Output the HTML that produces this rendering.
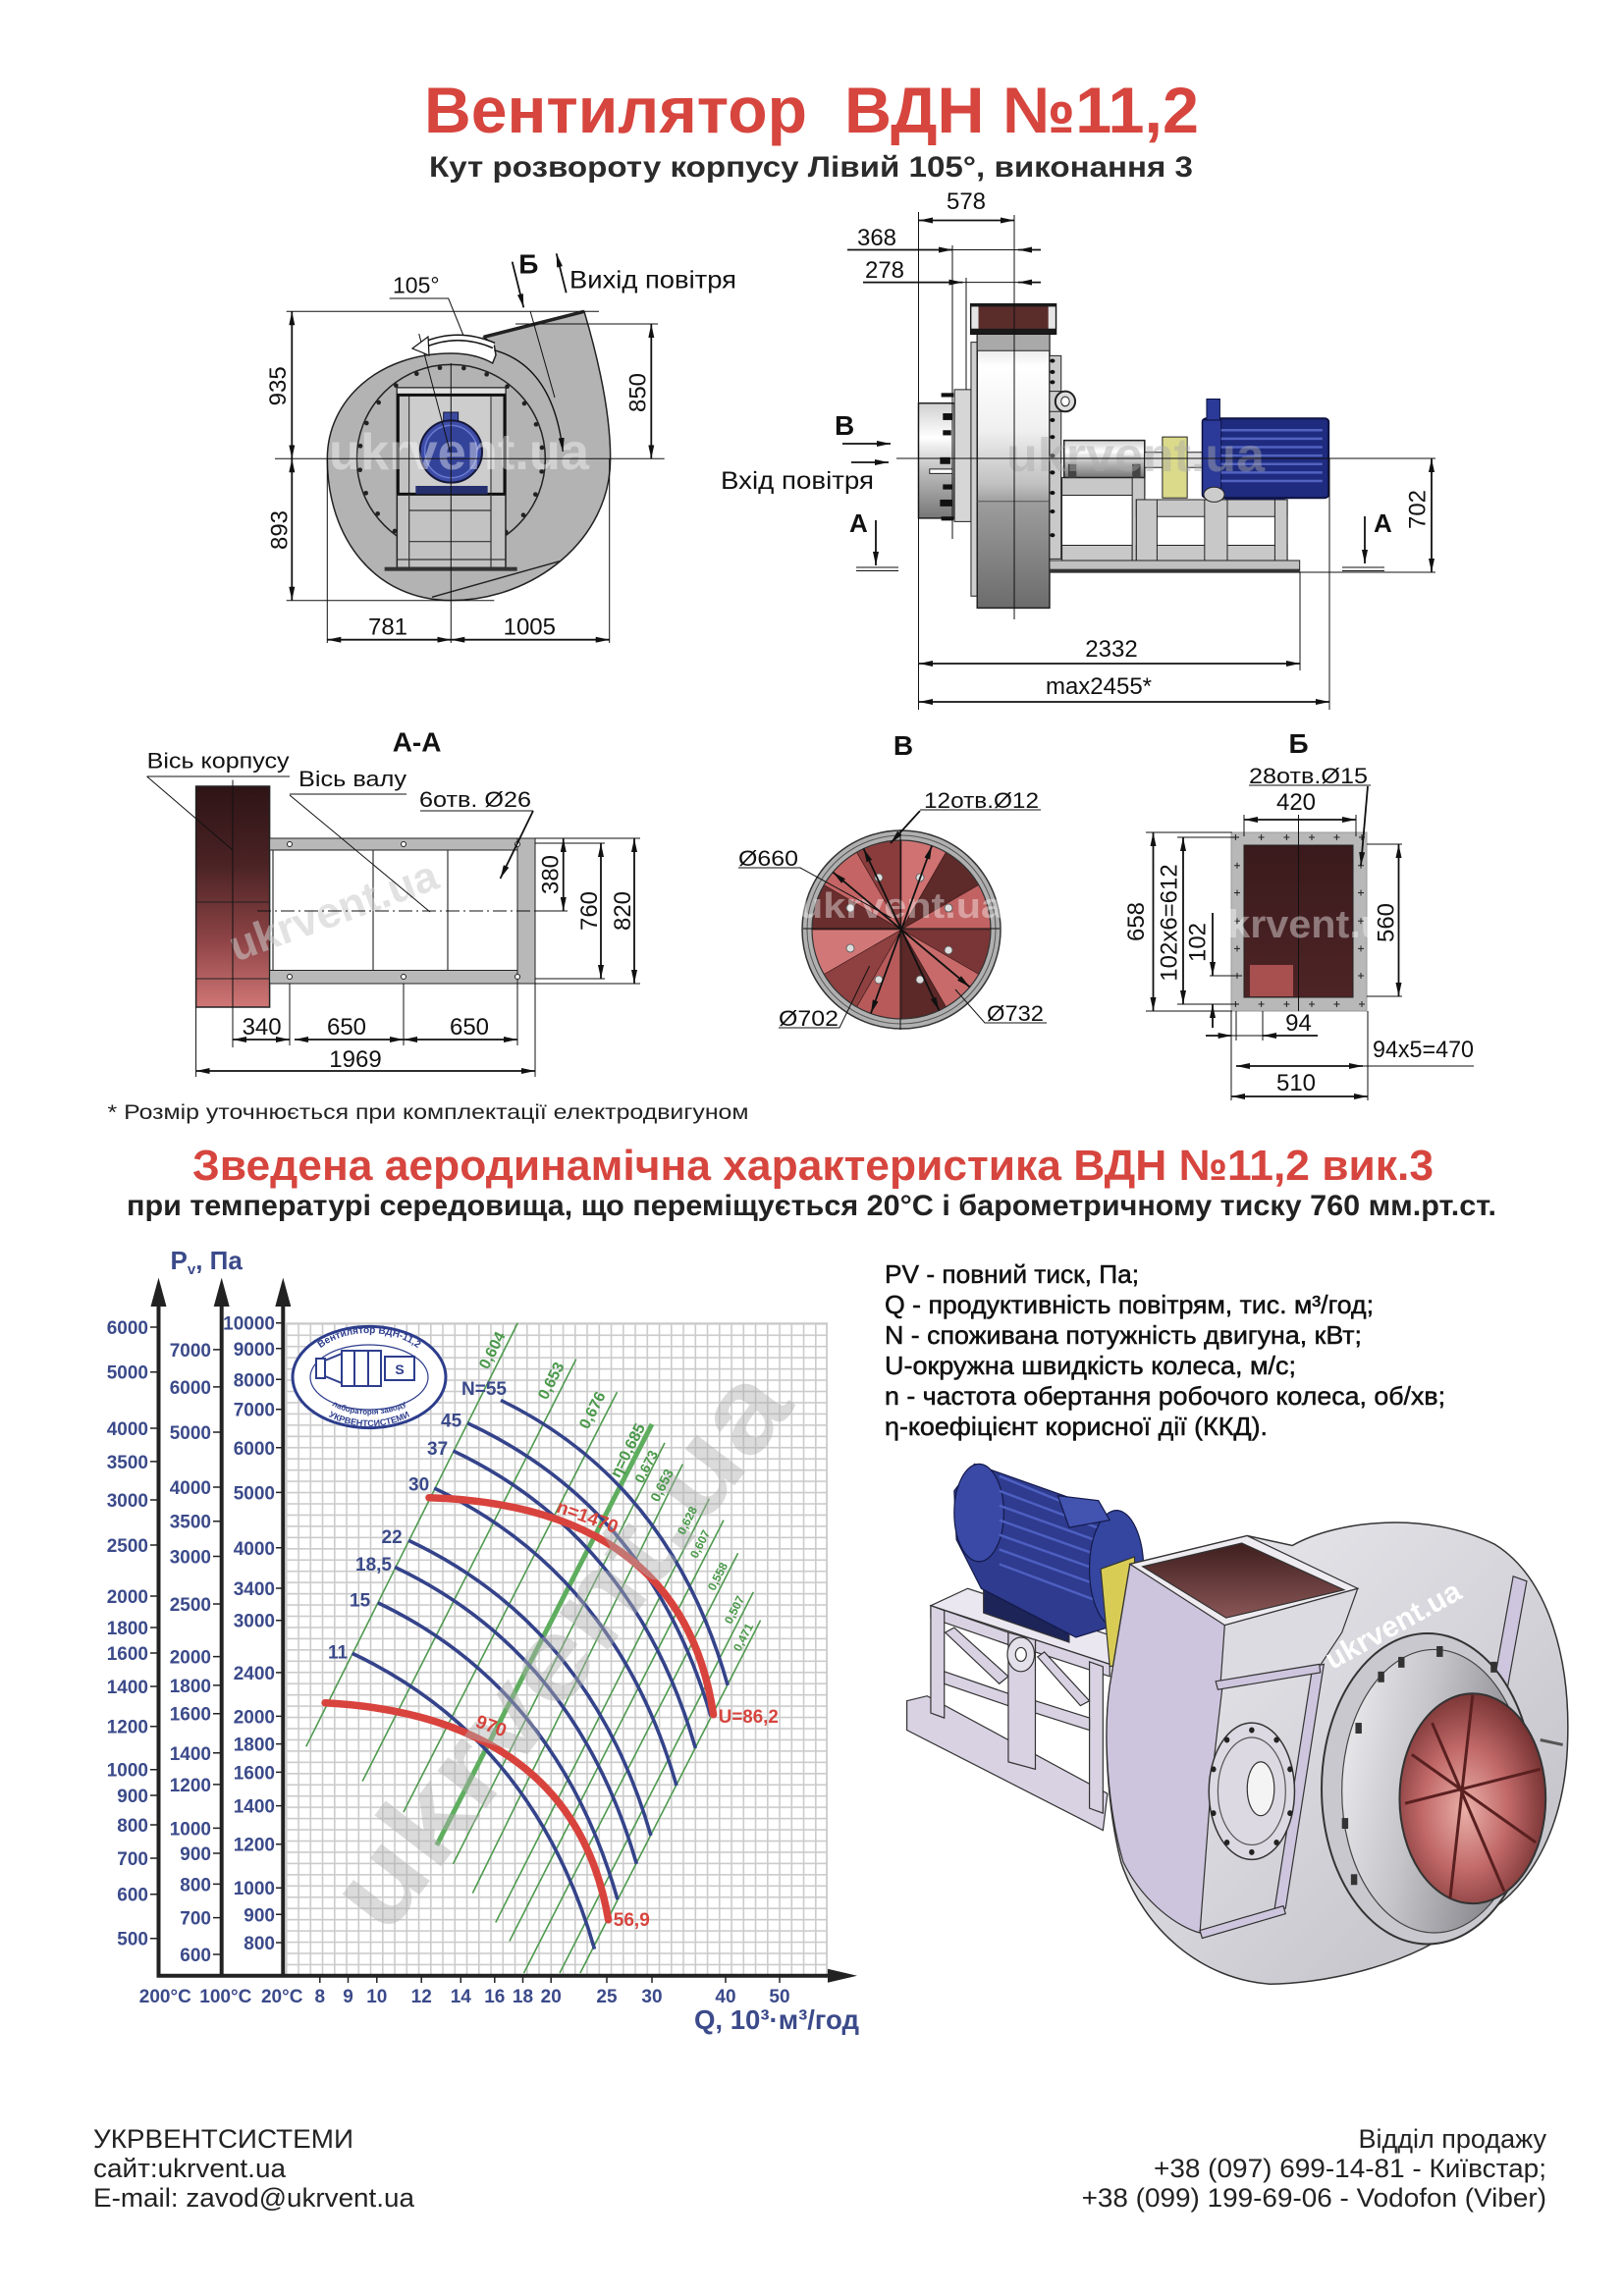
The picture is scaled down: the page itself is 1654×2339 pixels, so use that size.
<!DOCTYPE html>
<html><head><meta charset="utf-8"><style>
html,body{margin:0;padding:0;background:#fff}
svg{display:block}
text{font-family:"Liberation Sans",Arial,sans-serif}
.ns *{vector-effect:non-scaling-stroke}
.th{stroke:#111;stroke-width:1;fill:none}
.dm{stroke:#111;stroke-width:1.8;fill:none}
.ax{font-size:19px;font-weight:bold;fill:#3b4a8a}
</style></head><body>
<svg width="1654" height="2339" viewBox="0 0 1654 2339" xmlns="http://www.w3.org/2000/svg">
<defs>
<marker id="ar" viewBox="0 0 14 6" refX="14" refY="3" markerWidth="14" markerHeight="6" markerUnits="userSpaceOnUse" orient="auto-start-reverse"><path d="M0,0L14,3L0,6z" fill="#111"/></marker>
<linearGradient id="body" x1="0" y1="0" x2="0" y2="1"><stop offset="0" stop-color="#d8d8d8"/><stop offset="0.12" stop-color="#fff"/><stop offset="0.35" stop-color="#f0f0f0"/><stop offset="0.55" stop-color="#c0c0c0"/><stop offset="0.62" stop-color="#9c9c9c"/><stop offset="1" stop-color="#6c6c6c"/></linearGradient>
<linearGradient id="cyl" x1="0" y1="0" x2="0" y2="1"><stop offset="0" stop-color="#d0d0d0"/><stop offset="0.3" stop-color="#fff"/><stop offset="0.6" stop-color="#bbb"/><stop offset="1" stop-color="#777"/></linearGradient>
<linearGradient id="redv" x1="0" y1="0" x2="0" y2="1"><stop offset="0" stop-color="#2e1416"/><stop offset="0.35" stop-color="#4a2224"/><stop offset="0.7" stop-color="#8e4446"/><stop offset="1" stop-color="#d07676"/></linearGradient>
<linearGradient id="brn" x1="0" y1="0" x2="0" y2="1"><stop offset="0" stop-color="#3a1a1c"/><stop offset="1" stop-color="#4e2426"/></linearGradient>
<linearGradient id="inl" x1="0" y1="0" x2="1" y2="0.3"><stop offset="0" stop-color="#f0f0f2"/><stop offset="0.5" stop-color="#c4c4c9"/><stop offset="1" stop-color="#86868c"/></linearGradient>
<linearGradient id="hous" x1="0" y1="0" x2="1" y2="1"><stop offset="0" stop-color="#ececf0"/><stop offset="0.5" stop-color="#d6d5db"/><stop offset="1" stop-color="#bdbcc3"/></linearGradient>
<radialGradient id="redr" cx="0.45" cy="0.55" r="0.6"><stop offset="0" stop-color="#eab0a8"/><stop offset="0.5" stop-color="#c06868"/><stop offset="1" stop-color="#6e2c2c"/></radialGradient>
<linearGradient id="outl" x1="0" y1="0" x2="0" y2="1"><stop offset="0" stop-color="#3e1e1e"/><stop offset="1" stop-color="#8a5656"/></linearGradient>
<pattern id="grid" x="291" y="1348" width="12.25" height="11.45" patternUnits="userSpaceOnUse"><path d="M0.8,0V11.45M0,0.8H12.25" stroke="#cbcbcb" stroke-width="1.6" fill="none"/></pattern>
<path id="lt" d="M312,1400 A64,42 0 0 1 440,1400"/>
<path id="lb1" d="M322,1408 A54,33 0 0 0 430,1408"/>
<path id="lb2" d="M312,1410 A64,43 0 0 0 440,1410"/>
</defs>
<rect width="1654" height="2339" fill="#fff"/>

<!-- TITLES -->
<text x="432" y="135" font-size="66" font-weight="bold" fill="#d6453e" textLength="390" lengthAdjust="spacingAndGlyphs">Вентилятор</text>
<text x="860" y="135" font-size="66" font-weight="bold" fill="#d6453e" textLength="361" lengthAdjust="spacingAndGlyphs">ВДН №11,2</text>
<text x="437" y="180" font-size="30" font-weight="bold" fill="#2b2b2b" textLength="778" lengthAdjust="spacingAndGlyphs">Кут розвороту корпусу Лівий 105°, виконання 3</text>

<!-- TOP LEFT DRAWING -->
<g transform="translate(270,230) scale(0.33333)" class="ns">
<path d="M668,340 L975,262 C1010,380 1055,560 1055,712 C1055,960 820,1145 568,1145 C340,1145 190,960 190,712 C190,530 350,390 568,390 C620,390 660,400 695,420 L705,395 L700,365 Z" fill="#b3b3b3" stroke="#222" stroke-width="1.5"/>
<line x1="668" y1="340" x2="975" y2="262" stroke="#222" stroke-width="3.5"/>
<circle cx="568" cy="712" r="288" fill="none" stroke="#222" stroke-width="1.5"/>
<g fill="#222">
<circle cx="463" cy="452" r="7"/><circle cx="534" cy="434" r="7"/><circle cx="607" cy="435" r="7"/><circle cx="677" cy="454" r="7"/><circle cx="740" cy="491" r="7"/><circle cx="792" cy="543" r="7"/><circle cx="828" cy="607" r="7"/><circle cx="846" cy="678" r="7"/><circle cx="845" cy="751" r="7"/><circle cx="826" cy="821" r="7"/><circle cx="789" cy="884" r="7"/><circle cx="736" cy="936" r="7"/><circle cx="396" cy="933" r="7"/><circle cx="344" cy="880" r="7"/><circle cx="308" cy="817" r="7"/><circle cx="290" cy="746" r="7"/><circle cx="291" cy="673" r="7"/><circle cx="310" cy="603" r="7"/><circle cx="347" cy="540" r="7"/><circle cx="400" cy="488" r="7"/>
</g>
<rect x="403" y="495" width="332" height="550" fill="#c2c2c2" stroke="#222" stroke-width="1.5"/>
<rect x="440" y="515" width="250" height="305" fill="#cdcdcd" stroke="#222"/>
<rect x="403" y="495" width="332" height="20" fill="#e0e0e0" stroke="#222"/>
<path d="M406,515V820 M732,515V820 M403,517H735 M403,820H735" stroke="#111" stroke-width="3" fill="none"/>
<path d="M440,820V1045 M690,820V1045 M440,870H690 M440,965H690 M403,1020H735" stroke="#333" stroke-width="1.2" fill="none"/>
<rect x="365" y="1043" width="405" height="12" fill="#333"/>
<rect x="545" y="570" width="45" height="45" fill="#3b4aa0" stroke="#15183a"/>
<circle cx="568" cy="690" r="95" fill="#3d4ca6" stroke="#15183a" stroke-width="2"/>
<circle cx="568" cy="690" r="80" fill="#34439a" stroke="#6a7ad0" stroke-width="1.5"/>
<rect x="460" y="795" width="220" height="25" fill="#26306e"/>
<line x1="510" y1="1135" x2="900" y2="1025" stroke="#222" stroke-width="1.5"/>
</g>
<text x="335" y="478" font-size="52" font-weight="bold" fill="#fff" opacity="0.4" textLength="265" lengthAdjust="spacingAndGlyphs">ukrvent.ua</text>
<path class="th" d="M291.7,317.3H610 M291.7,611.7H503.3 M525,330H670 M280,467.3H676.7 M333.3,467.3V655 M459.3,370V655 M620.7,467.3V655 M396.7,304H456.7L473.3,345 M540,316.7L565,405 M426.7,340L458.3,460"/>
<g class="dm" marker-start="url(#ar)" marker-end="url(#ar)">
<path d="M297.3,317.3V467.3"/><path d="M297.3,467.3V611.7"/><path d="M663.3,330V467.3"/><path d="M333.3,651.7H459.3"/><path d="M459.3,651.7H620.7"/>
</g>
<g class="dm" marker-end="url(#ar)">
<path d="M521.7,266.7L533.3,313.3"/><path d="M576.7,298.3L566.7,258.3"/><path d="M503.3,356.7Q563.3,373.3 573.3,460" stroke-width="1.4"/>
</g>
<path d="M503,352 Q466,336 430,352" stroke="#111" stroke-width="7" fill="none"/>
<path d="M503,352 Q466,336 430,352" stroke="#fff" stroke-width="4" fill="none"/>
<polygon points="420,355 436,343 437,362" fill="#fff" stroke="#111" stroke-width="1.2"/>
<g font-size="24" fill="#111" text-anchor="middle" dominant-baseline="central">
<text transform="translate(283.3,393.3) rotate(-90)">935</text>
<text transform="translate(285,540) rotate(-90)">893</text>
<text transform="translate(650,400) rotate(-90)">850</text>
</g>
<g font-size="24" fill="#111" text-anchor="middle">
<text x="395" y="646.7">781</text><text x="539.3" y="646.7">1005</text>
</g>
<text x="400" y="298.3" font-size="23" fill="#111">105°</text>
<text x="528.3" y="278.3" font-size="28" font-weight="bold" fill="#111">Б</text>
<text x="580" y="293.3" font-size="25" fill="#111" textLength="170" lengthAdjust="spacingAndGlyphs">Вихід повітря</text>

<!-- TOP RIGHT DRAWING -->
<g transform="translate(850,190) scale(0.42105,0.34483)" class="ns">
<rect x="203" y="640" width="87" height="340" fill="url(#cyl)" stroke="#222" stroke-width="1.5"/>
<rect x="230" y="835" width="55" height="13" fill="#fff" stroke="#222"/>
<rect x="290" y="600" width="40" height="390" fill="#d6d6d6" stroke="#222"/>
<g fill="#111"><rect x="258" y="610" width="30" height="12"/><rect x="262" y="670" width="22" height="20"/><rect x="262" y="720" width="20" height="15"/><rect x="255" y="800" width="25" height="20"/><rect x="262" y="880" width="22" height="15"/><rect x="255" y="925" width="30" height="20"/><rect x="258" y="975" width="30" height="12"/></g>
<rect x="330" y="460" width="15" height="750" fill="#cfcfcf" stroke="#222"/>
<rect x="345" y="435" width="175" height="810" fill="url(#body)" stroke="#222" stroke-width="1.5"/>
<rect x="345" y="435" width="175" height="50" fill="#a9a9a9" stroke="#222"/>
<line x1="345" y1="930" x2="520" y2="930" stroke="#555"/>
<rect x="330" y="348" width="205" height="87" fill="#5a2c2a" stroke="#111" stroke-width="2"/>
<rect x="331" y="352" width="17" height="68" fill="#e5e5e5"/>
<rect x="517" y="352" width="17" height="68" fill="#e5e5e5"/>
<rect x="330" y="420" width="205" height="15" fill="#1a1a1a"/>
<rect x="330" y="345" width="205" height="10" fill="#1a1a1a"/>
<rect x="520" y="500" width="28" height="600" fill="#c9c9c9" stroke="#222"/>
<g fill="#111"><circle cx="527" cy="515" r="6"/><circle cx="527" cy="548" r="6"/><circle cx="527" cy="578" r="6"/><circle cx="527" cy="690" r="6"/><circle cx="527" cy="740" r="6"/><circle cx="527" cy="795" r="6"/><circle cx="527" cy="845" r="6"/><circle cx="527" cy="905" r="6"/><circle cx="527" cy="960" r="6"/><circle cx="527" cy="1030" r="6"/></g>
<rect x="520" y="605" width="40" height="60" fill="#ccc" stroke="#222"/>
<ellipse cx="558" cy="635" rx="24" ry="30" fill="#ddd" stroke="#222" stroke-width="2"/>
<ellipse cx="558" cy="635" rx="10" ry="14" fill="#fff" stroke="#222"/>
<rect x="550" y="860" width="200" height="245" fill="#fff" stroke="#222"/>
<rect x="550" y="860" width="200" height="52" fill="#c8c8c8" stroke="#222"/>
<rect x="550" y="1060" width="170" height="45" fill="#c8c8c8" stroke="#222"/>
<rect x="720" y="860" width="30" height="245" fill="#c8c8c8" stroke="#222"/>
<rect x="730" y="925" width="365" height="180" fill="#fff" stroke="#222"/>
<rect x="730" y="925" width="365" height="50" fill="#c8c8c8" stroke="#222"/>
<rect x="730" y="1060" width="365" height="45" fill="#c8c8c8" stroke="#222"/>
<rect x="730" y="925" width="50" height="180" fill="#c8c8c8" stroke="#222"/>
<rect x="895" y="925" width="55" height="180" fill="#c8c8c8" stroke="#222"/>
<rect x="1065" y="925" width="30" height="180" fill="#c8c8c8" stroke="#222"/>
<rect x="520" y="1105" width="605" height="35" fill="#c0c0c0" stroke="#222"/>
<rect x="520" y="1130" width="605" height="10" fill="#333"/>
<rect x="555" y="750" width="195" height="110" fill="url(#cyl)" stroke="#222" stroke-width="1.5"/>
<rect x="565" y="820" width="20" height="40" fill="#444"/><rect x="720" y="820" width="20" height="40" fill="#444"/>
<rect x="750" y="785" width="150" height="45" fill="#e2e2e2" stroke="#222"/>
<rect x="793" y="740" width="60" height="180" fill="#dada8a" stroke="#222"/>
<rect x="945" y="885" width="145" height="40" fill="#16205e"/>
<rect x="890" y="685" width="305" height="235" rx="10" fill="#1e2b7e" stroke="#0d1240" stroke-width="2"/>
<rect x="890" y="690" width="45" height="225" fill="#2b3a98" stroke="#0d1240"/>
<path d="M935,720H1180 M935,745H1180 M935,770H1180 M935,795H1180 M935,820H1180 M935,845H1180 M935,870H1180" stroke="#5262c0" stroke-width="2.5"/>
<rect x="900" y="628" width="32" height="62" fill="#2b3a98" stroke="#0d1240"/>
<ellipse cx="918" cy="910" rx="25" ry="22" fill="#ccc" stroke="#222"/>
</g>
<text x="1025" y="480" font-size="48" font-weight="bold" fill="#aaa" opacity="0.45" textLength="263" lengthAdjust="spacingAndGlyphs">ukrvent.ua</text>
<path class="th" d="M935.5,216V723 M1033,219V631 M970,250V549 M984,283V397 M1324,583V683 M1354,467V723 M913,467H1380 M1354,467H1462 M1324,583H1462 M970,254.5H1060 M980.5,287.6H1060 M872,578H915 M872,581.5H915 M1367,578H1410 M1367,581.5H1410"/>
<g class="dm" marker-start="url(#ar)" marker-end="url(#ar)">
<path d="M936,224.5H1033"/><path d="M1458,467V583"/><path d="M936,676H1324"/><path d="M936,715H1354"/>
</g>
<g class="dm" marker-end="url(#ar)">
<path d="M863,254.5H970"/><path d="M1060,254.5H1037"/><path d="M879,287.6H980.5"/><path d="M1060,287.6H1037"/><path d="M858,452H907"/><path d="M867,471H905"/><path d="M892,530V576"/><path d="M1390,526V574"/>
</g>
<g font-size="24" fill="#111" text-anchor="middle">
<text x="984" y="213">578</text><text x="893" y="250">368</text><text x="901" y="283">278</text>
<text x="1132" y="669">2332</text><text x="1119" y="707">max2455*</text>
<text transform="translate(1444,519) rotate(-90)" dominant-baseline="central">702</text>
</g>
<text x="850" y="443" font-size="28" font-weight="bold" fill="#111">В</text>
<text x="734" y="498" font-size="25" fill="#111" textLength="156" lengthAdjust="spacingAndGlyphs">Вхід повітря</text>
<text x="865" y="542" font-size="26" font-weight="bold" fill="#111">А</text>
<text x="1399" y="542" font-size="26" font-weight="bold" fill="#111">А</text>

<!-- A-A SECTION -->
<rect x="199.6" y="801" width="75" height="225" fill="url(#redv)" stroke="#222" stroke-width="1.5"/>
<path d="M199.6,919H274.6 M199.6,997H274.6" stroke="#222" stroke-width="1"/>
<rect x="274.6" y="854" width="270.4" height="12" fill="#b8b8b8" stroke="#222"/>
<rect x="274.6" y="988.5" width="270.4" height="13.5" fill="#b8b8b8" stroke="#222"/>
<rect x="527" y="854" width="18" height="148" fill="#b8b8b8" stroke="#222"/>
<path d="M278,866V988 M380,866V988 M456,866V988" stroke="#333" stroke-width="1.2"/>
<g fill="#fff" stroke="#222"><circle cx="295" cy="860" r="2.5"/><circle cx="411" cy="860" r="2.5"/><circle cx="527" cy="860" r="2.5"/><circle cx="295" cy="995" r="2.5"/><circle cx="411" cy="995" r="2.5"/><circle cx="527" cy="995" r="2.5"/></g>
<text transform="translate(240,980) rotate(-20)" font-size="44" font-weight="bold" fill="#ccc" opacity="0.55">ukrvent.ua</text>
<path d="M262,928H545" stroke="#111" stroke-width="1" stroke-dasharray="14 4 2 4"/>
<path class="th" d="M237,794.6V1067 M149.6,791H295 M149.6,791L237,866 M295,809H414 M295,810L438,929 M428,826H543 M545,854H652 M545,1002H652 M545,859H616 M545,997H616 M545,928H578 M199.6,1026V1097 M237,1026V1065 M295,1002V1065 M411,1002V1065 M527,1002V1065 M545,1002V1097"/>
<path class="dm" d="M543,826L509.5,895" marker-end="url(#ar)" stroke-width="1.2"/>
<g class="dm" marker-start="url(#ar)" marker-end="url(#ar)">
<path d="M573.75,854V928"/><path d="M612,859V997"/><path d="M646,854V1002"/>
<path d="M237,1059H295"/><path d="M300,1059H411"/><path d="M411,1059H527"/><path d="M199.6,1091H545"/>
</g>
<g font-size="24" fill="#111" text-anchor="middle">
<text transform="translate(561,891) rotate(-90)" dominant-baseline="central">380</text>
<text transform="translate(600.5,928) rotate(-90)" dominant-baseline="central">760</text>
<text transform="translate(634.5,928) rotate(-90)" dominant-baseline="central">820</text>
<text x="266.6" y="1054">340</text><text x="353" y="1054">650</text><text x="478" y="1054">650</text><text x="362" y="1087">1969</text>
</g>
<text x="424.6" y="765.7" font-size="28" font-weight="bold" fill="#111" text-anchor="middle">А-А</text>
<text x="149.6" y="782.7" font-size="22" fill="#111" textLength="145" lengthAdjust="spacingAndGlyphs">Вісь корпусу</text>
<text x="304" y="801" font-size="22" fill="#111" textLength="110" lengthAdjust="spacingAndGlyphs">Вісь валу</text>
<text x="427" y="822" font-size="22" fill="#111" textLength="114" lengthAdjust="spacingAndGlyphs">6отв. Ø26</text>

<!-- B VIEW -->
<circle cx="918" cy="947" r="101" fill="#b0b0b0" stroke="#333" stroke-width="1.5"/>
<circle cx="918" cy="947" r="96" fill="none" stroke="#555" stroke-width="1"/>
<g stroke="#3a1a1a" stroke-width="0.6">
<path d="M918,947L1009,947A91,91 0 0 1 996.8,992.5Z" fill="#7a3636"/>
<path d="M918,947L996.8,992.5A91,91 0 0 1 963.5,1025.8Z" fill="#c86a6a"/>
<path d="M918,947L963.5,1025.8A91,91 0 0 1 918,1038Z" fill="#5c2828"/>
<path d="M918,947L918,1038A91,91 0 0 1 872.5,1025.8Z" fill="#b85a5a"/>
<path d="M918,947L872.5,1025.8A91,91 0 0 1 839.2,992.5Z" fill="#8f4040"/>
<path d="M918,947L839.2,992.5A91,91 0 0 1 827,947Z" fill="#d27777"/>
<path d="M918,947L827,947A91,91 0 0 1 839.2,901.5Z" fill="#6a2e2e"/>
<path d="M918,947L839.2,901.5A91,91 0 0 1 872.5,868.2Z" fill="#c46464"/>
<path d="M918,947L872.5,868.2A91,91 0 0 1 918,856Z" fill="#8a3c3c"/>
<path d="M918,947L918,856A91,91 0 0 1 963.5,868.2Z" fill="#d07272"/>
<path d="M918,947L963.5,868.2A91,91 0 0 1 996.8,901.5Z" fill="#5e2a2a"/>
<path d="M918,947L996.8,901.5A91,91 0 0 1 1009,947Z" fill="#c26262"/>
</g>
<circle cx="918" cy="947" r="91" fill="none" stroke="#333" stroke-width="1.2"/>
<g fill="#ddd" stroke="#555" stroke-width="0.8"><circle cx="895" cy="894" r="4"/><circle cx="937" cy="894" r="4"/><circle cx="866" cy="925" r="4"/><circle cx="966" cy="925" r="4"/><circle cx="866" cy="966" r="4"/><circle cx="966" cy="968" r="4"/><circle cx="895" cy="998" r="4"/><circle cx="937" cy="998" r="4"/></g>
<text x="813" y="935" font-size="36" font-weight="bold" fill="#fff" opacity="0.4" textLength="209" lengthAdjust="spacingAndGlyphs">ukrvent.ua</text>
<path class="th" d="M917,845V1049 M818,946H1018 M937,825H1060 M752,884H815L907.5,935 M793,1047H855L885.6,984 M1066,1042H1003L973,1008"/>
<g class="dm" stroke-width="1.4" marker-start="url(#ar)" marker-end="url(#ar)">
<path d="M848.3,888.5L987.7,1005.5"/><path d="M879.5,864.5L956.5,1029.5"/><path d="M949.1,861.5L886.9,1032.5"/>
</g>
<path class="dm" d="M937,826L907,859" marker-end="url(#ar)" stroke-width="1.4"/>
<text x="920" y="769" font-size="28" font-weight="bold" fill="#111" text-anchor="middle">В</text>
<g font-size="22" fill="#111">
<text x="941" y="823" textLength="117" lengthAdjust="spacingAndGlyphs">12отв.Ø12</text>
<text x="752" y="882" textLength="61" lengthAdjust="spacingAndGlyphs">Ø660</text>
<text x="793" y="1045" textLength="61" lengthAdjust="spacingAndGlyphs">Ø702</text>
<text x="1005" y="1040" textLength="58" lengthAdjust="spacingAndGlyphs">Ø732</text>
</g>

<!-- Б VIEW -->
<rect x="1254" y="848" width="138" height="182" fill="#b8b8b8" stroke="#999"/>
<rect x="1267" y="861" width="111" height="155" fill="url(#brn)" stroke="#222"/>
<rect x="1273" y="983" width="44" height="32" fill="#a84f4f"/>
<path d="M1322.5,830V1030" stroke="#111" stroke-width="1"/>
<path stroke="#222" stroke-width="1" d="M1255.4,853h6M1258.4,850v6 M1281.6,853h6M1284.6,850v6 M1307.4,853h6M1310.4,850v6 M1333,853h6M1336,850v6 M1358.4,853h6M1361.4,850v6 M1384,853h6M1387,850v6 M1255.4,1023h6M1258.4,1020v6 M1281.6,1023h6M1284.6,1020v6 M1307.4,1023h6M1310.4,1020v6 M1333,1023h6M1336,1020v6 M1358.4,1023h6M1361.4,1020v6 M1384,1023h6M1387,1020v6 M1257,881.7h6M1260,878.7v6 M1257,909.5h6M1260,906.5v6 M1257,938.3h6M1260,935.3v6 M1257,966.4h6M1260,963.4v6 M1257,994h6M1260,991v6 M1383,881.7h6M1386,878.7v6 M1383,909.5h6M1386,906.5v6 M1383,938.3h6M1386,935.3v6 M1383,966.4h6M1386,963.4v6 M1383,994h6M1386,991v6"/>
<text x="1225" y="955" font-size="40" font-weight="bold" fill="#fff" opacity="0.4" textLength="209" lengthAdjust="spacingAndGlyphs">ukrvent.ua</text>
<path class="th" d="M1272,800H1396 M1267,830V852 M1381,830V852 M1167,848H1255 M1167,1030H1255 M1199,853H1262 M1199,1023H1262 M1232,994H1265 M1392,860H1428 M1392,1015H1428 M1259,1030V1060 M1286,1030V1060 M1254.6,1055H1286 M1254,1030V1121 M1393,1030V1121 M1388,1086H1501"/>
<path class="dm" d="M1393,801L1386,882" marker-end="url(#ar)" stroke-width="1.4"/>
<g class="dm" marker-start="url(#ar)" marker-end="url(#ar)">
<path d="M1267,835H1381"/><path d="M1174.5,848V1030"/><path d="M1205,853V1023"/><path d="M1424.5,860V1015"/><path d="M1259,1086H1388"/><path d="M1254,1117H1393"/>
</g>
<g class="dm" marker-end="url(#ar)">
<path d="M1235,930V994"/><path d="M1235,1047V1023"/><path d="M1228,1055H1254.6"/><path d="M1342,1055H1286"/>
</g>
<g font-size="24" fill="#111" text-anchor="middle">
<text x="1320" y="825">420</text><text x="1322.5" y="1050">94</text><text x="1320" y="1111">510</text>
<text transform="translate(1157.5,939) rotate(-90)" dominant-baseline="central">658</text>
<text transform="translate(1191,940) rotate(-90)" dominant-baseline="central">102x6=612</text>
<text transform="translate(1220,960) rotate(-90)" dominant-baseline="central">102</text>
<text transform="translate(1412,940) rotate(-90)" dominant-baseline="central">560</text>
</g>
<text x="1398" y="1077" font-size="24" fill="#111" textLength="103" lengthAdjust="spacingAndGlyphs">94x5=470</text>
<text x="1322.5" y="767" font-size="28" font-weight="bold" fill="#111" text-anchor="middle">Б</text>
<text x="1272" y="798" font-size="22" fill="#111" textLength="121" lengthAdjust="spacingAndGlyphs">28отв.Ø15</text>

<!-- NOTE & SECOND TITLE -->
<text x="109.5" y="1140" font-size="21" fill="#222" textLength="653" lengthAdjust="spacingAndGlyphs">* Розмір уточнюється при комплектації електродвигуном</text>
<text x="196" y="1202" font-size="44" font-weight="bold" fill="#d6453e" textLength="1264" lengthAdjust="spacingAndGlyphs">Зведена аеродинамічна характеристика ВДН №11,2 вик.3</text>
<text x="129" y="1238" font-size="30" font-weight="bold" fill="#222" textLength="1395" lengthAdjust="spacingAndGlyphs">при температурі середовища, що переміщується 20°C і барометричному тиску 760 мм.рт.ст.</text>

<!-- CHART -->
<rect x="291" y="1348" width="552" height="665" fill="url(#grid)"/>
<path d="M842,1348V2012 M291,1348H843" stroke="#cbcbcb" stroke-width="1.6"/>
<g class="ns" transform="translate(90,1250) scale(0.52178,0.54289)" fill="none">
<path d="M425,975L838,180 M535,1040L952,248 M615,1098L1032,310 M712,1195L1125,405 M750,1250L1160,445 M795,1305L1212,510 M822,1340L1240,550 M850,1400L1268,612 M920,1400L1298,685 M960,1400L1312,738" stroke="#4f9a4f" stroke-width="1.6"/>
<path d="M680,1160L1100,370" stroke="#5fae5f" stroke-width="5"/>
<path d="M805,325Q1137,480 1248,860 M740,368Q1096,527 1215,918 M712,420Q1067,582 1185,978 M675,490Q1030,652 1148,1048 M625,588Q980,749 1098,1142 M598,638Q952,800 1070,1195 M565,705Q916,866 1033,1262 M515,800Q870,961 988,1355" stroke="#34438a" stroke-width="3.6"/>
<path d="M665,508C900,515 1170,590 1220,915 M462,893C700,905 960,990 1015,1300" stroke="#d9433d" stroke-width="7.5" stroke-linecap="round"/>
</g>
<text transform="translate(570,1679) rotate(-52.4)" text-anchor="middle" dominant-baseline="central" font-size="118" font-weight="bold" fill="#b0b0b0" opacity="0.45" textLength="684" lengthAdjust="spacingAndGlyphs">ukrvent.ua</text>
<!-- axes -->
<path d="M161.5,1325V2014 M225.7,1325V2014 M288.3,1325V2014 M159.5,2012.7H845" stroke="#222" stroke-width="4"/>
<g fill="#222"><polygon points="161.5,1301.6 153.5,1331 169.5,1331"/><polygon points="225.7,1301.6 217.7,1331 233.7,1331"/><polygon points="288.3,1301.6 280.3,1331 296.3,1331"/><polygon points="873,2012.7 843,2005.7 843,2019.7"/></g>
<path stroke="#222" stroke-width="1.5" d="M153,1352H161M153,1397.7H161M153,1455H161M153,1488.9H161M153,1528H161M153,1574H161M153,1626H161M153,1658H161M153,1684H161M153,1718H161M153,1758.7H161M153,1802.7H161M153,1829H161M153,1859H161M153,1893H161M153,1929.7H161M153,1974.7H161 M217,1374.9H225M217,1412.9H225M217,1459H225M217,1515H225M217,1549.7H225M217,1585.5H225M217,1634H225M217,1687.6H225M217,1716.9H225M217,1745.7H225M217,1785.8H225M217,1817.9H225M217,1862.4H225M217,1888H225M217,1919.4H225M217,1953.6H225M217,1991H225 M281,1347.7H288M281,1373.8H288M281,1405.3H288M281,1435.7H288M281,1474.8H288M281,1520.4H288M281,1576.8H288M281,1618H288M281,1650.7H288M281,1703.9H288M281,1748.4H288M281,1776.6H288M281,1805.4H288M281,1839.6H288M281,1878.7H288M281,1923.2H288M281,1950.3H288M281,1979H288 M325.8,2013V2020M354.5,2013V2020M383.8,2013V2020M429.2,2013V2020M469.3,2013V2020M503.8,2013V2020M532.5,2013V2020M561.2,2013V2020M618,2013V2020M664,2013V2020M739,2013V2020M794,2013V2020"/>
<g class="ax" text-anchor="end">
<text x="151" y="1359">6000</text><text x="151" y="1404.7">5000</text><text x="151" y="1462">4000</text><text x="151" y="1495.9">3500</text><text x="151" y="1535">3000</text><text x="151" y="1581">2500</text><text x="151" y="1633">2000</text><text x="151" y="1665">1800</text><text x="151" y="1691">1600</text><text x="151" y="1725">1400</text><text x="151" y="1765.7">1200</text><text x="151" y="1809.7">1000</text><text x="151" y="1836">900</text><text x="151" y="1866">800</text><text x="151" y="1900">700</text><text x="151" y="1936.7">600</text><text x="151" y="1981.7">500</text>
<text x="215" y="1381.9">7000</text><text x="215" y="1419.9">6000</text><text x="215" y="1466">5000</text><text x="215" y="1522">4000</text><text x="215" y="1556.7">3500</text><text x="215" y="1592.5">3000</text><text x="215" y="1641">2500</text><text x="215" y="1694.6">2000</text><text x="215" y="1723.9">1800</text><text x="215" y="1752.7">1600</text><text x="215" y="1792.8">1400</text><text x="215" y="1824.9">1200</text><text x="215" y="1869.4">1000</text><text x="215" y="1895">900</text><text x="215" y="1926.4">800</text><text x="215" y="1960.6">700</text><text x="215" y="1998">600</text>
<text x="280" y="1354.7">10000</text><text x="280" y="1380.8">9000</text><text x="280" y="1412.3">8000</text><text x="280" y="1442.7">7000</text><text x="280" y="1481.8">6000</text><text x="280" y="1527.4">5000</text><text x="280" y="1583.8">4000</text><text x="280" y="1625">3400</text><text x="280" y="1657.7">3000</text><text x="280" y="1710.9">2400</text><text x="280" y="1755.4">2000</text><text x="280" y="1783.6">1800</text><text x="280" y="1812.4">1600</text><text x="280" y="1846.6">1400</text><text x="280" y="1885.7">1200</text><text x="280" y="1930.2">1000</text><text x="280" y="1957.3">900</text><text x="280" y="1986">800</text>
</g>
<g class="ax" text-anchor="middle">
<text x="168.3" y="2040">200°C</text><text x="229.8" y="2040">100°C</text><text x="287.2" y="2040">20°C</text><text x="325.8" y="2040">8</text><text x="354.5" y="2040">9</text><text x="383.8" y="2040">10</text><text x="429.2" y="2040">12</text><text x="469.3" y="2040">14</text><text x="503.8" y="2040">16</text><text x="532.5" y="2040">18</text><text x="561.2" y="2040">20</text><text x="618" y="2040">25</text><text x="664" y="2040">30</text><text x="739" y="2040">40</text><text x="794" y="2040">50</text>
</g>
<text x="707" y="2067" font-size="28" font-weight="bold" fill="#3b4a8a" textLength="168" lengthAdjust="spacingAndGlyphs">Q, 10³·м³/год</text>
<text x="173.5" y="1293" font-size="26" font-weight="bold" fill="#3b4a8a">P<tspan font-size="15" dy="5">v</tspan><tspan dy="-5">, Па</tspan></text>
<!-- curve labels -->
<g class="ax">
<text x="470" y="1421">N=55</text><text x="449" y="1453.6">45</text><text x="435" y="1482">37</text><text x="416" y="1518.7">30</text><text x="388.5" y="1572">22</text><text x="362" y="1600">18,5</text><text x="356" y="1636.5">15</text><text x="334" y="1689.7">11</text>
</g>
<g font-size="19" font-weight="bold" fill="#d6453e">
<text transform="translate(598,1546) rotate(20)" text-anchor="middle" dominant-baseline="central">n=1470</text>
<text transform="translate(500,1759) rotate(20)" text-anchor="middle" dominant-baseline="central">970</text>
<text x="731.8" y="1755" textLength="61" lengthAdjust="spacingAndGlyphs">U=86,2</text>
<text x="624.8" y="1962">56,9</text>
</g>
<g font-weight="bold" fill="#4a994a" text-anchor="middle" dominant-baseline="central">
<text font-size="16" transform="translate(502,1376) rotate(-63)">0,604</text>
<text font-size="16" transform="translate(562,1407) rotate(-63)">0,653</text>
<text font-size="16" transform="translate(604,1437) rotate(-63)">0,676</text>
<text font-size="16" transform="translate(640,1478) rotate(-63)">η=0,685</text>
<text font-size="14" transform="translate(658,1494) rotate(-63)">0,673</text>
<text font-size="14" transform="translate(674,1513) rotate(-63)">0,653</text>
<text font-size="12" transform="translate(700,1549) rotate(-63)">0,628</text>
<text font-size="12" transform="translate(713,1573) rotate(-63)">0,607</text>
<text font-size="12" transform="translate(731,1606) rotate(-63)">0,558</text>
<text font-size="12" transform="translate(748,1640) rotate(-63)">0,507</text>
<text font-size="12" transform="translate(757,1668) rotate(-63)">0,471</text>
</g>
<!-- logo -->
<ellipse cx="376" cy="1403" rx="78" ry="51.6" fill="#fff" stroke="#2d3d8c" stroke-width="3"/>
<ellipse cx="376" cy="1403" rx="60" ry="33" fill="none" stroke="#2d3d8c" stroke-width="1.2"/>
<text font-size="10" font-weight="bold" fill="#2d3d8c"><textPath href="#lt" startOffset="50%" text-anchor="middle">Вентилятор ВДН-11,2</textPath></text>
<text font-size="8" font-weight="bold" fill="#2d3d8c"><textPath href="#lb1" startOffset="50%" text-anchor="middle">лабораторія заводу</textPath></text>
<text font-size="9" font-weight="bold" fill="#2d3d8c"><textPath href="#lb2" startOffset="50%" text-anchor="middle">УКРВЕНТСИСТЕМИ</textPath></text>
<g fill="#fff" stroke="#2d3d8c" stroke-width="2">
<rect x="322" y="1384" width="9" height="20"/><polygon points="331,1386 348,1379 348,1409 331,1402"/><rect x="348" y="1376" width="40" height="36"/><rect x="392" y="1382" width="30" height="24"/>
</g>
<path d="M361,1376V1412 M375,1376V1412" stroke="#2d3d8c" stroke-width="2"/>
<text x="407" y="1400" font-size="14" font-weight="bold" fill="#2d3d8c" text-anchor="middle">S</text>

<!-- LEGEND -->
<g font-size="26" fill="#111" stroke="#111" stroke-width="0.5">
<text x="901" y="1307" textLength="259" lengthAdjust="spacingAndGlyphs">PV - повний тиск, Па;</text>
<text x="901" y="1338" textLength="498" lengthAdjust="spacingAndGlyphs">Q - продуктивність повітрям, тис. м³/год;</text>
<text x="901" y="1369" textLength="486" lengthAdjust="spacingAndGlyphs">N - споживана потужність двигуна, кВт;</text>
<text x="901" y="1400" textLength="419" lengthAdjust="spacingAndGlyphs">U-окружна швидкість колеса, м/с;</text>
<text x="901" y="1431" textLength="571" lengthAdjust="spacingAndGlyphs">n - частота обертання робочого колеса, об/хв;</text>
<text x="901" y="1462" textLength="390" lengthAdjust="spacingAndGlyphs">η-коефіцієнт корисної дії (ККД).</text>
</g>

<!-- 3D FAN -->
<g class="ns" transform="translate(880,1270) scale(0.45914,0.49751)" stroke="#333" stroke-width="1.2">
<polygon points="95,930 140,920 540,1120 530,1195 95,990" fill="#d8d2e3"/>
<polygon points="148,735 230,700 560,800 545,855" fill="#ebe7f0"/>
<polygon points="148,735 320,790 320,815 148,760" fill="#d8d2e3"/>
<polygon points="380,805 545,855 545,880 380,830" fill="#d8d2e3"/>
<polygon points="148,735 178,745 178,965 148,955" fill="#d8d2e3"/>
<polygon points="500,850 530,860 530,1160 500,1150" fill="#d8d2e3"/>
<polygon points="178,870 320,915 320,940 178,895" fill="#d8d2e3"/>
<polygon points="380,930 500,965 500,990 380,955" fill="#d8d2e3"/>
<polygon points="180,790 200,780 320,880 300,895" fill="#d8d2e3"/>
<polygon points="385,840 400,830 500,930 480,940" fill="#d8d2e3"/>
<polygon points="320,790 380,805 380,1070 320,1055" fill="#d8d2e3"/>
<ellipse cx="348" cy="835" rx="30" ry="35" fill="#e4e0ea"/>
<ellipse cx="348" cy="835" rx="12" ry="14" fill="#fff"/>
<polygon points="265,690 455,750 455,810 265,750" fill="#1c2458"/>
<path d="M245,445 L520,535 L600,615 L610,760 L470,800 L260,700 L205,600 L200,500 Z" fill="#2e3b8e" stroke="#141a4a"/>
<ellipse cx="255" cy="545" rx="55" ry="100" fill="#3a49a5" stroke="#141a4a"/>
<path d="M300,470L540,560 M300,500L560,590 M300,530L570,620 M300,560L575,650 M300,590L575,680 M300,620L570,710 M300,650L560,740" stroke="#4d5fc0" stroke-width="2.5" fill="none"/>
<ellipse cx="560" cy="660" rx="60" ry="120" fill="#3546a0" stroke="#141a4a"/>
<polygon points="430,510 520,520 545,560 455,575" fill="#4253b0" stroke="#141a4a"/>
<polygon points="525,660 600,635 605,845 545,860" fill="#d9cc55"/>
<path d="M590,650 L850,592 L950,612 C1050,560 1250,540 1400,610 C1520,680 1570,850 1560,1030 C1550,1220 1450,1350 1330,1385 C1200,1480 1000,1510 900,1510 C750,1500 620,1400 570,1260 C540,1150 530,1000 545,900 Z" fill="url(#hous)" stroke-width="1.5"/>
<path d="M590,650 L800,770 L795,900 L770,1100 L745,1405 C700,1395 620,1345 575,1260 C540,1150 530,1000 545,900 Z" fill="#cdc4dd"/>
<polygon points="800,775 1095,700 1060,790 1010,860 790,905" fill="#dddbe2"/>
<polygon points="590,650 850,592 1095,700 800,775" fill="#eeecf1"/>
<polygon points="618,655 838,607 1065,703 803,760" fill="url(#outl)"/>
<polygon points="995,860 1020,855 935,1355 910,1360" fill="#cec6de"/>
<polygon points="1440,675 1470,685 1330,1400 1300,1390" fill="#cec6de"/>
<polygon points="780,890 1010,855 1012,872 785,907" fill="#cec6de"/>
<polygon points="745,1400 930,1350 935,1366 750,1416" fill="#cec6de"/>
<ellipse cx="860" cy="1115" rx="95" ry="140" fill="#dcd9e2" stroke-width="1.5"/>
<ellipse cx="860" cy="1115" rx="75" ry="110" fill="none" stroke="#555"/>
<ellipse cx="880" cy="1110" rx="30" ry="55" fill="#f4f4f4"/>
<g fill="#222" stroke="none"><circle cx="860" cy="990" r="6"/><circle cx="915" cy="1010" r="6"/><circle cx="945" cy="1070" r="6"/><circle cx="945" cy="1160" r="6"/><circle cx="915" cy="1220" r="6"/><circle cx="860" cy="1240" r="6"/><circle cx="805" cy="1220" r="6"/><circle cx="775" cy="1160" r="6"/><circle cx="775" cy="1070" r="6"/><circle cx="805" cy="1010" r="6"/></g>
<ellipse cx="1250" cy="1110" rx="235" ry="318" fill="#c9c8cf" stroke-width="2"/>
<ellipse cx="1265" cy="1115" rx="205" ry="290" fill="url(#inl)" stroke="#444"/>
<ellipse cx="1350" cy="1130" rx="162" ry="215" fill="url(#redr)" stroke-width="2"/>
<path d="M1200,1140L1500,1070 M1260,975L1420,1320 M1350,918L1300,1335 M1215,1040L1490,1220" stroke="#5a2020" stroke-width="3" fill="none"/>
<line x1="1500" y1="1010" x2="1550" y2="1020" stroke="#555" stroke-width="3"/>
<g fill="#333" stroke="none"><rect x="1140" y="870" width="14" height="22"/><rect x="1185" y="840" width="14" height="22"/><rect x="1270" y="818" width="14" height="22"/><rect x="1390" y="850" width="14" height="22"/><rect x="1090" y="975" width="14" height="22"/><rect x="1060" y="1170" width="14" height="22"/><rect x="1080" y="1285" width="14" height="22"/></g>
</g>
<text transform="translate(1419,1656) rotate(-29)" text-anchor="middle" dominant-baseline="central" font-size="30" font-weight="bold" fill="#fff" textLength="153" lengthAdjust="spacingAndGlyphs">ukrvent.ua</text>

<!-- FOOTER -->
<g font-size="27" fill="#222">
<text x="95" y="2188" textLength="265" lengthAdjust="spacingAndGlyphs">УКРВЕНТСИСТЕМИ</text>
<text x="95" y="2218" textLength="196" lengthAdjust="spacingAndGlyphs">сайт:ukrvent.ua</text>
<text x="95" y="2248" textLength="327" lengthAdjust="spacingAndGlyphs">E-mail: zavod@ukrvent.ua</text>
<text x="1383.5" y="2188" textLength="191.5" lengthAdjust="spacingAndGlyphs">Відділ продажу</text>
<text x="1175" y="2218" textLength="400" lengthAdjust="spacingAndGlyphs">+38 (097) 699-14-81 - Київстар;</text>
<text x="1101.6" y="2248" textLength="473.4" lengthAdjust="spacingAndGlyphs">+38 (099) 199-69-06 - Vodofon (Viber)</text>
</g>
</svg>
</body></html>
